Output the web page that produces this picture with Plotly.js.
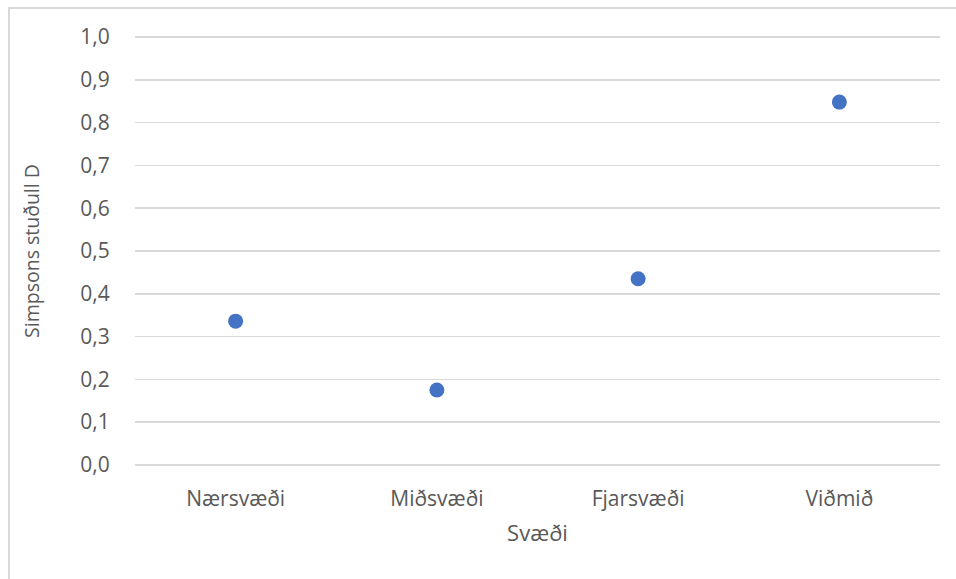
<!DOCTYPE html>
<html>
<head>
<meta charset="utf-8">
<script src="https://cdn.plot.ly/plotly-3.0.1.min.js"></script>
<style>
  html, body { margin: 0; padding: 0; background: #fff; overflow: hidden; }
  #frame { position: absolute; left: 8px; top: 7px; width: 1000px; height: 1000px; border: 2px solid #d9d9d9; box-sizing: border-box; }
  #chart { position: absolute; left: 0; top: 0; width: 956px; height: 579px; }
</style>
</head>
<body>
<div id="frame"></div>
<div id="chart"></div>
<script>
const categories = ["Nærsvæði", "Miðsvæði", "Fjarsvæði", "Viðmið"];
const simpsonD = [0.336, 0.175, 0.435, 0.848];
const yTickVals = [0, 0.1, 0.2, 0.3, 0.4, 0.5, 0.6, 0.7, 0.8, 0.9, 1.0];
const yTickText = ["0,0", "0,1", "0,2", "0,3", "0,4", "0,5", "0,6", "0,7", "0,8", "0,9", "1,0"];
const xTitle = "Svæði";
const yTitle = "Simpsons stuðull D";

const fontFam = "Open Sans, Noto Sans, sans-serif";
const textCol = "#595959";

const trace = {
  type: "scatter",
  mode: "markers",
  x: categories.map((c, i) => i),
  y: simpsonD,
  marker: { color: "#4472C4", size: 15 },
  hoverinfo: "skip"
};

const eps = 0.0025;
const layout = {
  width: 956, height: 579,
  margin: { l: 135, r: 16, t: 36, b: 113 },
  paper_bgcolor: "rgba(0,0,0,0)",
  plot_bgcolor: "rgba(0,0,0,0)",
  showlegend: false,
  font: { family: fontFam, color: textCol, size: 21 },
  xaxis: {
    range: [-0.5, 3.5],
    tickvals: [0, 1, 2, 3],
    ticktext: categories,
    showgrid: false,
    zeroline: false,
    showline: false,
    ticks: "outside", ticklen: 14, tickcolor: "rgba(0,0,0,0)",
    tickfont: { size: 21, color: textCol, family: fontFam },
    title: { text: xTitle, font: { size: 22, color: textCol, family: fontFam }, standoff: 14 },
    fixedrange: true
  },
  yaxis: {
    range: [0 - eps, 1.0 + eps],
    tickvals: yTickVals,
    ticktext: yTickText,
    showgrid: true,
    gridcolor: "#d9d9d9",
    gridwidth: 1.5,
    zeroline: false,
    showline: false,
    ticks: "outside", ticklen: 20, tickcolor: "rgba(0,0,0,0)",
    tickfont: { size: 21, color: textCol, family: fontFam },
    title: { text: yTitle, font: { size: 19.5, color: textCol, family: fontFam }, standoff: 35 },
    fixedrange: true
  }
};

Plotly.newPlot("chart", [trace], layout, { displayModeBar: false, staticPlot: true });
</script>
</body>
</html>
